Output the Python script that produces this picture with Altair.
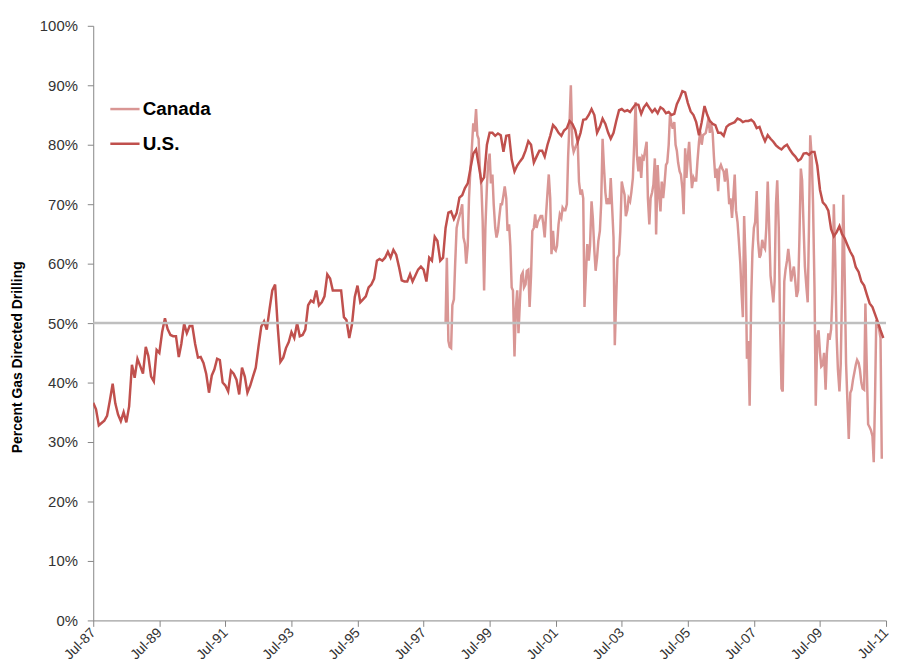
import altair as alt
import pandas as pd

# U.S. percent gas-directed drilling, monthly from Jul-1987
us_values = [
    36.6, 35.5, 32.8, 33.2, 33.6, 34.4, 37.0, 39.8, 36.5, 34.6, 33.5, 35.0,
    33.3, 36.0, 43.0, 40.8, 44.0, 42.8, 41.5, 46.0, 44.5, 41.0, 40.2, 45.5,
    45.0, 48.5, 50.8, 49.0, 48.0, 47.8, 47.8, 44.3, 46.5, 49.9, 48.3, 49.5,
    49.5, 46.5, 44.2, 44.3, 43.3, 41.5, 38.3, 41.2, 42.2, 44.0, 43.8, 40.0,
    39.5, 38.5, 42.0, 41.5, 40.5, 38.0, 42.5, 41.0, 38.3, 39.5, 41.0, 42.5,
    46.0, 49.4, 50.3, 48.9, 52.4, 55.5, 56.5, 49.0, 43.5, 44.2, 45.8, 46.8,
    48.5, 47.5, 50.0, 47.8, 48.0, 48.9, 53.0, 53.8, 53.5, 55.5, 53.0, 53.5,
    54.5, 58.2, 57.5, 55.5, 55.5, 55.5, 55.5, 51.0, 50.5, 47.5, 49.8, 54.4,
    56.3, 53.5, 54.0, 54.5, 56.0, 56.5, 57.5, 60.5, 60.8, 60.5, 61.0, 62.0,
    61.0, 62.3, 61.5, 59.5, 57.2, 57.0, 57.0, 58.2, 57.0, 58.0, 59.0, 59.5,
    59.0, 57.0, 61.0, 60.5, 64.5, 63.8, 60.5, 61.0, 66.0, 68.6, 68.8, 67.5,
    68.5, 71.1, 71.5, 72.7, 73.5, 76.0, 78.5, 79.2, 76.7, 73.8, 74.5, 80.0,
    82.0, 82.0, 81.5, 81.9, 81.6, 78.8, 81.5, 81.6, 77.5, 75.5, 76.5, 77.2,
    77.8, 79.0, 80.6, 80.0, 77.0, 78.0, 79.0, 79.0, 78.0, 80.0, 81.5, 83.3,
    82.8, 82.0, 81.5, 82.4, 82.8, 84.0, 83.5, 82.5, 80.5, 82.0, 84.2, 84.3,
    85.0, 86.0, 85.0, 82.0, 83.0, 84.4, 83.5, 82.0, 81.0, 82.0, 84.0, 85.8,
    86.0, 85.6, 85.8, 85.5, 86.2, 86.8, 86.7, 85.2, 86.3, 86.9, 86.2, 85.5,
    86.0, 85.3, 86.3, 86.0, 85.3, 85.5, 85.0, 85.2, 86.8, 87.8, 89.0, 88.8,
    87.0, 85.6, 85.0, 83.8, 81.6, 83.8, 86.5, 85.0, 84.0, 83.5, 83.3, 82.0,
    82.0, 81.5, 83.0, 83.4, 83.6, 83.8, 84.4, 84.2, 83.8, 84.0, 84.0, 84.2,
    83.8, 82.8, 83.0, 81.7, 80.6, 81.6, 81.0, 80.5, 79.9, 79.5, 79.2, 79.7,
    80.0, 79.2, 78.5, 78.0, 77.3, 77.6, 78.5, 78.6, 78.3, 78.8, 78.8, 76.5,
    72.4, 70.3, 69.8, 68.9, 65.8, 64.6, 65.3, 66.3, 65.0, 64.2, 63.1, 62.0,
    61.2, 59.4, 58.6, 57.0, 56.3, 54.8, 53.3, 52.7, 51.5, 50.2, 48.8, 47.5,
]
us_start = "1987-07-01"

# Canada percent gas-directed drilling, twice monthly from Mar-1998
canada_values = [
    50.0, 61.0, 47.0, 46.0, 45.8, 53.0, 54.0, 60.0, 66.0, 67.0,
    68.0, 68.8, 70.0, 64.4, 63.3, 60.0, 63.0, 71.0, 76.0, 79.0,
    83.6, 82.2, 86.0, 81.6, 81.0, 76.0, 73.0, 67.2, 55.5, 66.0,
    73.0, 77.0, 78.5, 73.5, 75.0, 70.0, 66.0, 64.4, 65.5, 67.7,
    70.0, 70.0, 71.5, 73.0, 71.0, 65.5, 66.6, 63.0, 56.0, 55.5,
    44.4, 52.2, 55.5, 48.3, 54.0, 58.0, 58.5, 56.0, 56.5, 58.8,
    59.0, 52.7, 58.0, 65.5, 66.0, 68.3, 66.0, 67.0, 67.5, 68.0,
    68.0, 66.5, 64.4, 68.0, 72.0, 75.0, 71.0, 61.6, 65.5, 62.5,
    62.2, 63.0, 66.6, 68.3, 67.7, 69.4, 69.0, 69.0, 70.0, 78.0,
    84.0, 90.0, 80.0, 78.8, 79.5, 80.0, 80.5, 73.8, 71.6, 72.5,
    71.0, 52.7, 58.8, 63.3, 60.5, 63.0, 70.5, 67.7, 62.2, 58.8,
    61.0, 63.8, 65.5, 70.0, 81.0, 76.6, 72.0, 70.0, 71.0, 70.0,
    74.4, 70.0, 64.4, 46.3, 54.4, 61.0, 61.5, 65.5, 73.8, 72.7,
    71.6, 68.0, 69.0, 71.0, 70.5, 72.0, 74.4, 80.0, 87.2, 78.3,
    75.5, 78.0, 74.4, 78.0, 77.7, 79.0, 80.5, 71.0, 66.6, 71.0,
    72.0, 73.3, 77.7, 64.9, 76.6, 72.0, 68.8, 73.8, 71.0, 73.3,
    76.6, 77.0, 80.0, 85.0, 83.5, 82.7, 83.8, 80.0, 79.0, 77.0,
    75.5, 75.0, 72.7, 68.3, 79.4, 74.4, 78.0, 80.5, 76.0, 72.7,
    74.5, 74.0, 74.0, 77.2, 80.5, 82.2, 80.0, 81.6, 81.8, 82.0,
    83.3, 84.5, 82.0, 83.5, 82.0, 78.0, 74.4, 76.0, 72.2, 76.0,
    76.6, 76.0, 75.5, 73.8, 76.0, 74.0, 70.0, 71.0, 67.7, 71.0,
    75.0, 69.0, 67.0, 64.0, 60.0, 55.0, 51.0, 68.0, 60.0, 44.0,
    47.0, 36.1, 54.0, 62.0, 66.0, 67.0, 72.2, 64.0, 61.0, 61.5,
    64.0, 63.0, 62.5, 66.0, 73.8, 67.2, 58.0, 56.0, 53.5, 57.0,
    70.0, 74.0, 66.0, 50.0, 39.0, 38.5, 57.0, 59.0, 60.5, 62.5,
    60.0, 57.0, 58.5, 59.5, 57.0, 54.4, 55.5, 64.0, 76.0, 74.0,
    66.0, 59.5, 56.0, 53.5, 66.0, 81.6, 77.7, 70.0, 56.0, 36.1,
    47.7, 48.8, 45.0, 42.7, 43.0, 45.0, 38.8, 45.0, 48.3, 47.2,
    49.0, 55.0, 70.0, 61.6, 47.7, 42.2, 38.5, 43.0, 55.0, 71.6,
    57.0, 43.3, 36.5, 30.5, 38.3, 38.8, 40.5, 41.6, 43.0, 43.8,
    43.3, 42.2, 40.0, 39.0, 38.8, 53.3, 42.0, 33.0, 32.5, 32.0,
    31.0, 26.6, 37.0, 50.5, 50.0, 49.0, 47.5, 27.2,
]
canada_start = "1998-03-01"

series_names = ["Canada", "U.S."]
series_colors = ["#D99694", "#C0504D"]
tick_dates = ["1987-07-01", "1989-07-01", "1991-07-01", "1993-07-01", "1995-07-01",
              "1997-07-01", "1999-07-01", "2001-07-01", "2003-07-01", "2005-07-01",
              "2007-07-01", "2009-07-01", "2011-07-01"]
y_ticks = [0, 0.1, 0.2, 0.3, 0.4, 0.5, 0.6, 0.7, 0.8, 0.9, 1.0]
reference_level = [0.5]

us_df = pd.DataFrame({
    "date": pd.date_range(us_start, periods=len(us_values), freq="MS").strftime("%Y-%m-%d"),
    "value": [v / 100 for v in us_values],
    "series": "U.S.",
})
ca_df = pd.DataFrame({
    "date": pd.date_range(canada_start, periods=len(canada_values), freq="SMS").strftime("%Y-%m-%d"),
    "value": [v / 100 for v in canada_values],
    "series": "Canada",
})
ref_df = pd.DataFrame({"level": reference_level})

FONT = "Liberation Sans"

x_enc = alt.X(
    "date:T",
    scale=alt.Scale(domain=[tick_dates[0], tick_dates[-1]]),
    axis=alt.Axis(
        values=tick_dates, labelExpr="timeFormat(datum.value, '%b-%y')",
        labelAngle=-45, labelAlign="right", labelBaseline="middle",
        labelFontSize=14, labelFont=FONT, labelColor="#333333", labelPadding=4,
        tickSize=6, tickColor="#868686", domainColor="#868686", grid=False,
        title=None, labelOverlap=False, labelBound=False, labelFlush=False,
    ),
)
y_enc = alt.Y(
    "value:Q",
    scale=alt.Scale(domain=[0, 1], nice=False, zero=True),
    axis=alt.Axis(
        values=y_ticks, format=".0%", labelFontSize=15, labelFont=FONT,
        labelColor="#333333", labelPadding=10, tickSize=6, tickColor="#868686",
        domainColor="#868686", grid=False,
        title="Percent Gas Directed Drilling", titleFont=FONT, titleFontSize=14,
        titleFontWeight="bold", titleColor="#000000", titleAngle=-90,
        titleX=-76, titleY=334, titleAlign="center", titleBaseline="middle",
    ),
)
color_enc = alt.Color(
    "series:N",
    scale=alt.Scale(domain=series_names, range=series_colors),
    legend=alt.Legend(
        title=None, orient="none", legendX=16, legendY=68, padding=0,
        symbolType="stroke", symbolSize=870, symbolStrokeWidth=2.5,
        labelFontSize=19, labelFontWeight="bold", labelFont=FONT,
        labelColor="#000000", labelOffset=2, rowPadding=9,
    ),
)

canada_line = alt.Chart(ca_df).mark_line(strokeWidth=2.5, clip=True).encode(
    x=x_enc, y=y_enc, color=color_enc)
us_line = alt.Chart(us_df).mark_line(strokeWidth=2.5, clip=True).encode(
    x=x_enc, y=y_enc, color=color_enc)
ref_rule = alt.Chart(ref_df).mark_rule(color="#BFBFBF", strokeWidth=2.5).encode(
    y=alt.Y("level:Q"))

chart = alt.layer(canada_line, us_line, ref_rule).properties(
    width=800, height=600,
    autosize=alt.AutoSizeParams(type="none"),
    padding={"left": 86, "top": 15, "right": 3, "bottom": 40},
    background="white",
).configure_view(stroke=None)

chart.save("out.html", embed_options={"renderer": "svg", "actions": False})
